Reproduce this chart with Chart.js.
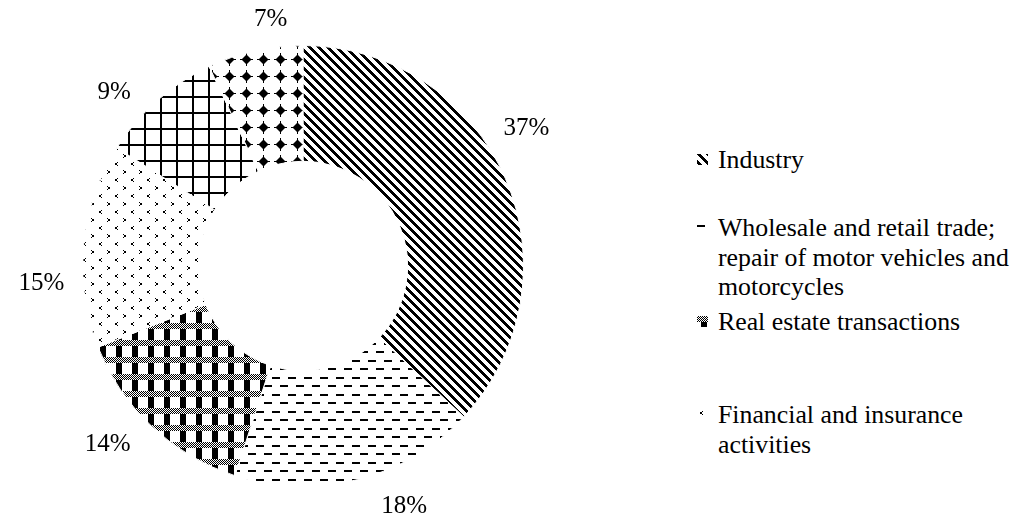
<!DOCTYPE html>
<html>
<head>
<meta charset="utf-8">
<script src="https://cdn.jsdelivr.net/npm/chart.js@4/dist/chart.umd.min.js"></script>
<style>
  body { margin: 0; background: #fff; }
  #wrap { position: relative; width: 1019px; height: 517px; overflow: hidden; }
  #box { position: absolute; left: 0; top: 0; width: 606px; height: 517px; }
  #legend { position: absolute; left: 697px; top: 0; font-family: 'Liberation Serif', 'Times New Roman', serif;
            font-size: 25.8px; line-height: 29.5px; color: #000; }
  .item { position: absolute; left: 0; width: 322px; }
  .item canvas { position: absolute; left: 0; top: 9px; }
  .item span { display: block; margin-left: 21px; white-space: pre-line; }
</style>
</head>
<body>
<div id="wrap">
  <div id="box"><canvas id="pieChart"></canvas></div>
  <div id="legend"></div>
</div>
<script>
// categories and shares (%)
const categories = [
  'Industry',
  'Wholesale and retail trade;\nrepair of motor vehicles and\nmotorcycles',
  'Real estate transactions',
  'Financial and insurance\nactivities',
  'Other A',
  'Other B'
];
const shares = [37, 18, 14, 15, 9, 7];
const legendShown = [0, 1, 2, 3];

// label placement tweaks (degrees off the slice middle), as in the original layout
const labelAngleShift = [-8.7, -8.7, 4.8, -8.6, -5.6, 5.2];

// fill patterns
function tile(w, h, draw) {
  const c = document.createElement('canvas');
  c.width = w; c.height = h;
  const g = c.getContext('2d');
  g.fillStyle = '#fff';
  g.fillRect(0, 0, w, h);
  g.fillStyle = '#000';
  g.strokeStyle = '#000';
  draw(g, w, h);
  return c;
}

const tiles = [
  // diagonal stripes, drawn pixel by pixel so they stay crisp
  tile(9, 9, (g, s) => {
    for (let y = 0; y < s; y++)
      for (let x = 0; x < s; x++)
        if ((x - y + s) % s < 4) g.fillRect(x, y, 1, 1);
  }),
  // dashes
  tile(16, 17, g => {
    g.fillRect(0, 3, 8, 2);
    g.fillRect(8, 11, 8, 2);
  }),
  // plaid
  tile(16, 17, g => {
    g.fillRect(4, 0, 6, 17);
    for (let y = 0; y < 6; y++)
      for (let x = 0; x < 16; x++) {
        g.fillStyle = (x + y) % 2 ? '#000' : '#fff';
        g.fillRect(x, y, 1, 1);
      }
  }),
  // chevrons
  tile(16, 16, g => {
    const lt = (x, y) => { g.fillRect(x + 2, y, 1, 1); g.fillRect(x, y + 1, 2, 2); g.fillRect(x + 2, y + 3, 1, 1); };
    const gt = (x, y) => { g.fillRect(x, y, 1, 1); g.fillRect(x + 1, y + 1, 2, 2); g.fillRect(x, y + 3, 1, 1); };
    lt(3, 2);
    gt(11, 10);
  }),
  // grid
  tile(16, 16, g => {
    g.fillRect(0, 0, 16, 2);
    g.fillRect(0, 0, 2, 16);
  }),
  // diamonds with small spikes
  tile(17, 17, g => {
    g.beginPath();
    g.moveTo(8.5, 3.5); g.lineTo(13.5, 8.5); g.lineTo(8.5, 13.5); g.lineTo(3.5, 8.5);
    g.closePath();
    g.fill();
    g.fillRect(8, 2, 1, 13);
    g.fillRect(2, 8, 13, 1);
  })
];

const ctx = document.getElementById('pieChart').getContext('2d');
const patterns = tiles.map(t => ctx.createPattern(t, 'repeat'));

// percent labels outside the ring
const outsideLabels = {
  id: 'outsideLabels',
  afterDatasetsDraw(chart) {
    const c = chart.ctx;
    const meta = chart.getDatasetMeta(0);
    c.save();
    c.font = '25px "Liberation Serif", "Times New Roman", serif';
    c.fillStyle = '#000';
    c.textAlign = 'center';
    c.textBaseline = 'middle';
    meta.data.forEach((arc, i) => {
      const p = arc.getProps(['x', 'y', 'startAngle', 'endAngle', 'outerRadius'], true);
      const txt = shares[i] + '%';
      const a = (p.startAngle + p.endAngle) / 2 + labelAngleShift[i] * Math.PI / 180;
      const hw = c.measureText(txt).width / 2;
      const r = p.outerRadius + 18 + Math.abs(Math.cos(a)) * hw + Math.abs(Math.sin(a)) * 11;
      c.fillText(txt, p.x + Math.cos(a) * r, p.y + Math.sin(a) * r + 3);
    });
    c.restore();
  }
};

const chart = new Chart(ctx, {
  type: 'doughnut',
  data: {
    labels: categories,
    datasets: [{
      data: shares,
      backgroundColor: patterns,
      borderColor: '#fff',
      borderWidth: 1,
      hoverOffset: 0
    }]
  },
  options: {
    responsive: true,
    maintainAspectRatio: false,
    animation: false,
    cutout: '47.5%',
    layout: { padding: { left: 82, right: 82, top: 44, bottom: 29 } },
    plugins: {
      legend: { display: false },
      tooltip: { enabled: false }
    }
  },
  plugins: [outsideLabels]
});

// legend on the right
const legendTops = [145, 213, 307, 400];
const legend = document.getElementById('legend');
legendShown.forEach((idx, n) => {
  const item = document.createElement('div');
  item.className = 'item';
  item.style.top = legendTops[n] + 'px';
  const sw = document.createElement('canvas');
  sw.width = 11; sw.height = 11;
  const sg = sw.getContext('2d');
  sg.fillStyle = sg.createPattern(tiles[idx], 'repeat');
  sg.fillRect(0, 0, 11, 11);
  const txt = document.createElement('span');
  txt.textContent = categories[idx];
  item.appendChild(sw);
  item.appendChild(txt);
  legend.appendChild(item);
});
</script>
</body>
</html>
